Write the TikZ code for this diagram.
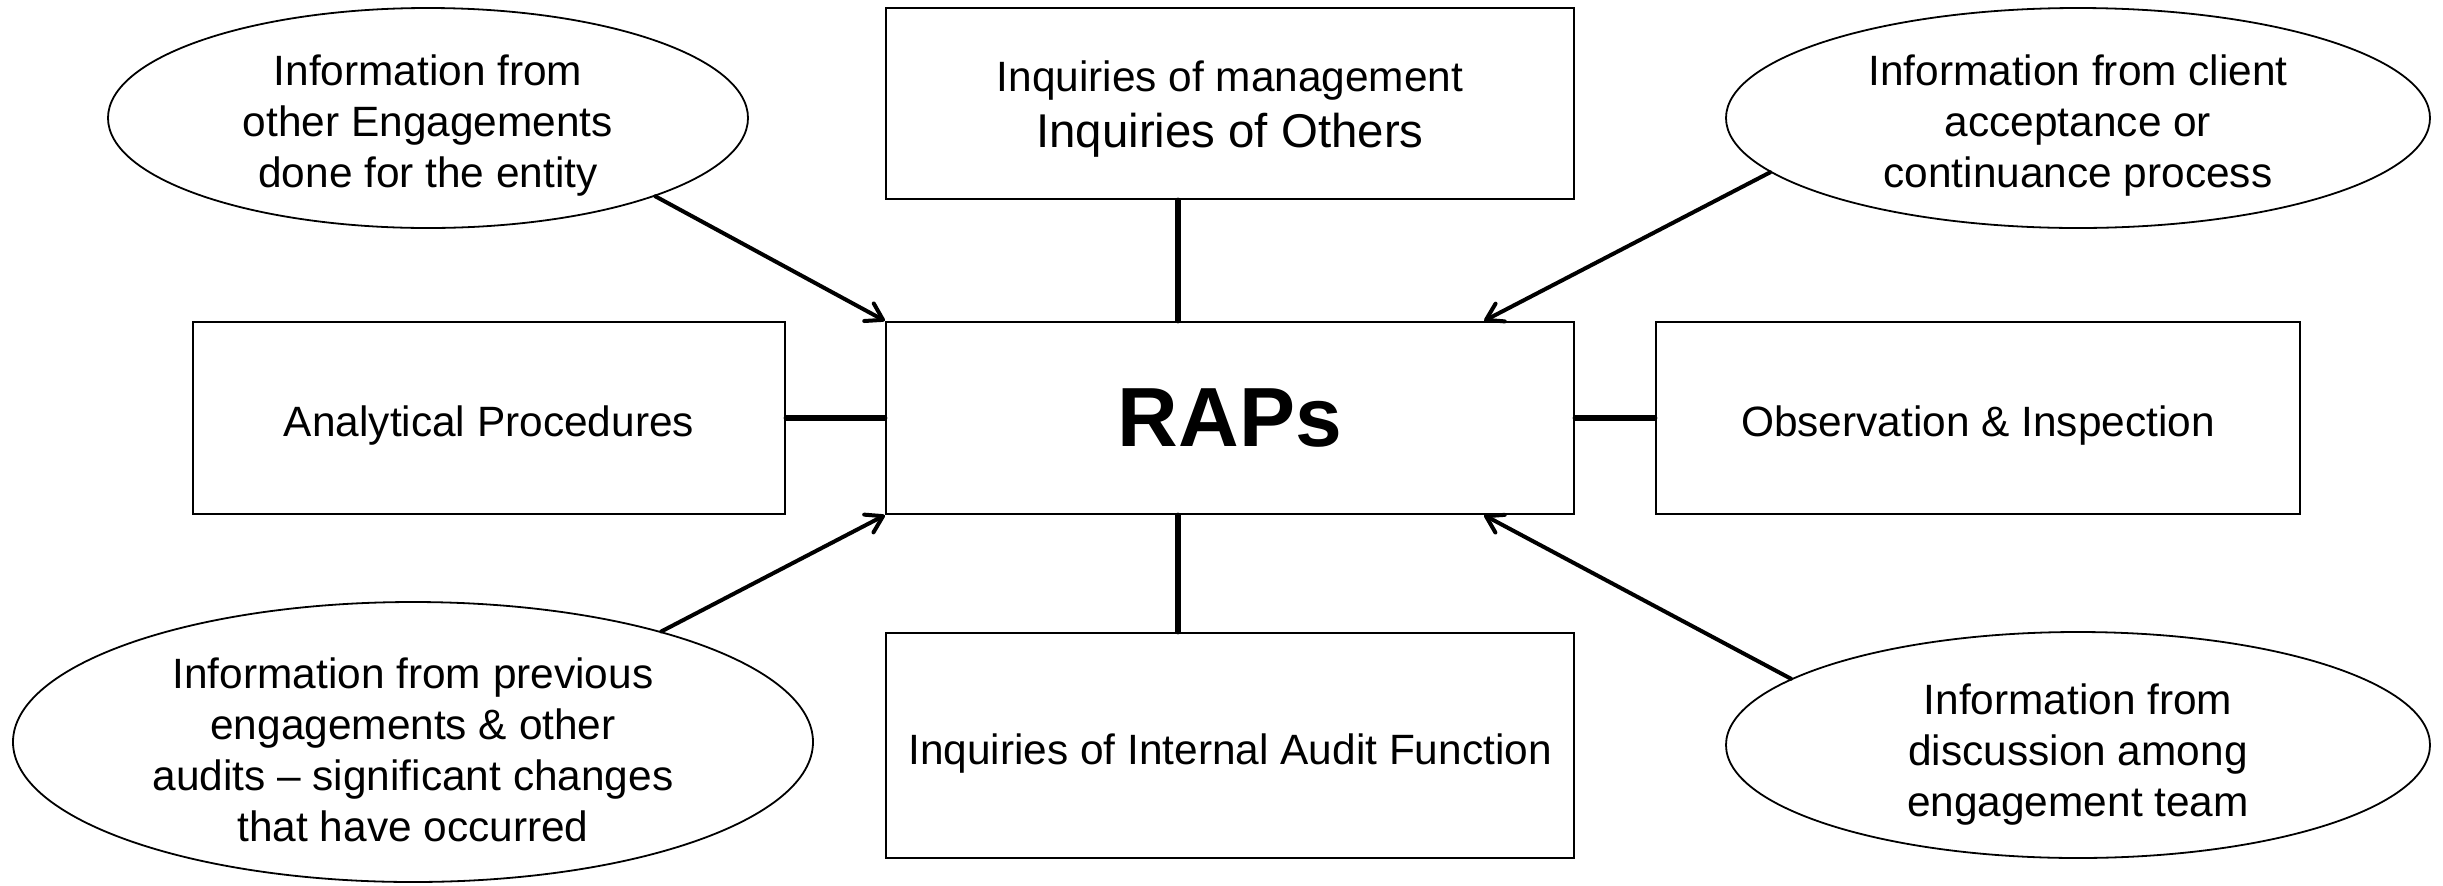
\documentclass[tikz,border=0pt]{standalone}
\usepackage{fontspec}
\setmainfont{Liberation Sans}
\usetikzlibrary{shapes.geometric,arrows.meta}
\begin{document}
\begin{tikzpicture}[x=0.5pt,y=-0.5pt,
  txt/.style={font=\fontsize{21.2}{25.5}\selectfont,align=center,inner sep=0pt},
  box/.style={draw,line width=1.2pt,rectangle,inner sep=0pt},
  ell/.style={draw,line width=0.9pt,ellipse,inner sep=0pt},
  inside/.style 2 args={label={[txt,yshift=#1]center:{#2}}},
  conn/.style={line width=2.6pt,line cap=round},
  arr/.style={line width=2pt,line cap=round,-{Straight Barb[round,length=8pt,width=10pt]}}]
\fill[white] (0,0) rectangle (2443,885);
\useasboundingbox (0,0) rectangle (2443,885);
% boxes
\node[box,minimum width=344pt,minimum height=95.5pt,
  inside={-2.8pt}{Inquiries of management\\[2.5pt]{\fontsize{23.7}{28}\selectfont Inquiries of Others}}] (top) at (1230,103.5) {};
\node[box,minimum width=344pt,minimum height=96pt,font=\fontsize{42}{48}\selectfont\bfseries] (raps) at (1230,418) {RAPs};
\node[box,minimum width=344pt,minimum height=112.5pt,
  inside={-3.9pt}{Inquiries of Internal Audit Function}] (bottom) at (1230,745.5) {};
\node[box,minimum width=296pt,minimum height=96pt,
  inside={-3.9pt}{Analytical Procedures}] (left) at (489,418) {};
\node[box,minimum width=322pt,minimum height=96pt,
  inside={-3.9pt}{Observation \& Inspection}] (right) at (1978,418) {};
% ellipses
\node[ell,minimum width=320pt,minimum height=110pt,
  inside={-3.6pt}{Information from\\other Engagements\\done for the entity}] (tl) at (428,118) {};
\node[ell,minimum width=352pt,minimum height=110pt,
  inside={-3.6pt}{Information from client\\acceptance or\\continuance process}] (tr) at (2078,118) {};
\node[ell,minimum width=400pt,minimum height=140pt,
  inside={-3.9pt}{Information from previous\\engagements \& other\\audits – significant changes\\that have occurred}] (bl) at (413,742) {};
\node[ell,minimum width=352pt,minimum height=113pt,
  inside={-4.6pt}{Information from\\discussion among\\engagement team}] (br) at (2078,745) {};
% plain connectors
\draw[conn] ([xshift=-26pt]top.south) -- ([xshift=-26pt]raps.north);
\draw[conn] ([xshift=-26pt]raps.south) -- ([xshift=-26pt]bottom.north);
\draw[conn] (left.east) -- (raps.west);
\draw[conn] (raps.east) -- (right.west);
% arrows
\draw[arr] (tl.-19) -- (raps.north west);
\draw[arr] (tr.-170) -- ([xshift=-45.5pt]raps.north east);
\draw[arr] (bl.24) -- (raps.south west);
\draw[arr] (br.167) -- ([xshift=-45.5pt]raps.south east);
\end{tikzpicture}
\end{document}
